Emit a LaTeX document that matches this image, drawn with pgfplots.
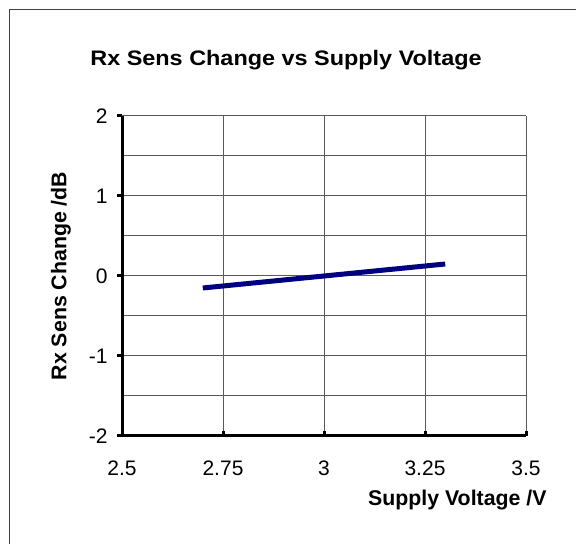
\documentclass[border=0pt]{standalone}
\usepackage{pgfplots}
\pgfplotsset{compat=1.18}
\usepackage{fontspec}
\setmainfont{Liberation Sans}
\definecolor{navyline}{RGB}{0,0,128}
\definecolor{gridgray}{RGB}{90,90,90}
\begin{document}
\begin{tikzpicture}[x=1bp,y=1bp]
\begin{axis}[
  at={(0,0)}, anchor=south west,
  scale only axis, width=404bp, height=320bp,
  xmin=2.5, xmax=3.5, ymin=-2, ymax=2,
  xtick={2.5,2.75,3,3.25,3.5},
  xticklabels={2.5,2.75,3,3.25,3.5},
  ytick={-2,-1,0,1,2},
  yticklabels={-2,-1,0,1,2},
  minor ytick={-1.5,-0.5,0.5,1.5},
  xmajorgrids, ymajorgrids, yminorgrids,
  grid style={gridgray, line width=1bp},
  minor grid style={gridgray, line width=1bp},
  axis x line*=bottom, axis y line*=left,
  axis line style={-, line width=3bp, black},
  xtick align=inside, ytick align=outside,
  major tick length=5bp, minor tick length=0bp,
  tick style={line width=3bp, black},
  ticklabel style={font=\fontsize{21bp}{25bp}\selectfont},
  xticklabel style={yshift=-21bp},
  yticklabel style={xshift=-6bp},
  /pgf/number format/assume math mode=true,
  clip=false,
]
\addplot[navyline, line width=5bp] coordinates {(2.7,-0.15) (3.0,0.0) (3.3,0.15)};
\end{axis}
\path[use as bounding box] (-122,-108) rectangle (454,436);
\draw[line width=1.5bp, black!75] (-112.5,-130) -- (-112.5,426.5) -- (470,426.5);
\node[anchor=base, xscale=1.115, transform shape, font=\fontsize{21bp}{25bp}\selectfont\bfseries] at (164,370) {Rx Sens Change vs Supply Voltage};
\node[anchor=base east, font=\fontsize{21.3bp}{25bp}\selectfont\bfseries] at (428,-70) {Supply Voltage /V};
\node[rotate=90, anchor=center, font=\fontsize{21.3bp}{25bp}\selectfont\bfseries] at (-61,160) {Rx Sens Change /dB};
\end{tikzpicture}
\end{document}
